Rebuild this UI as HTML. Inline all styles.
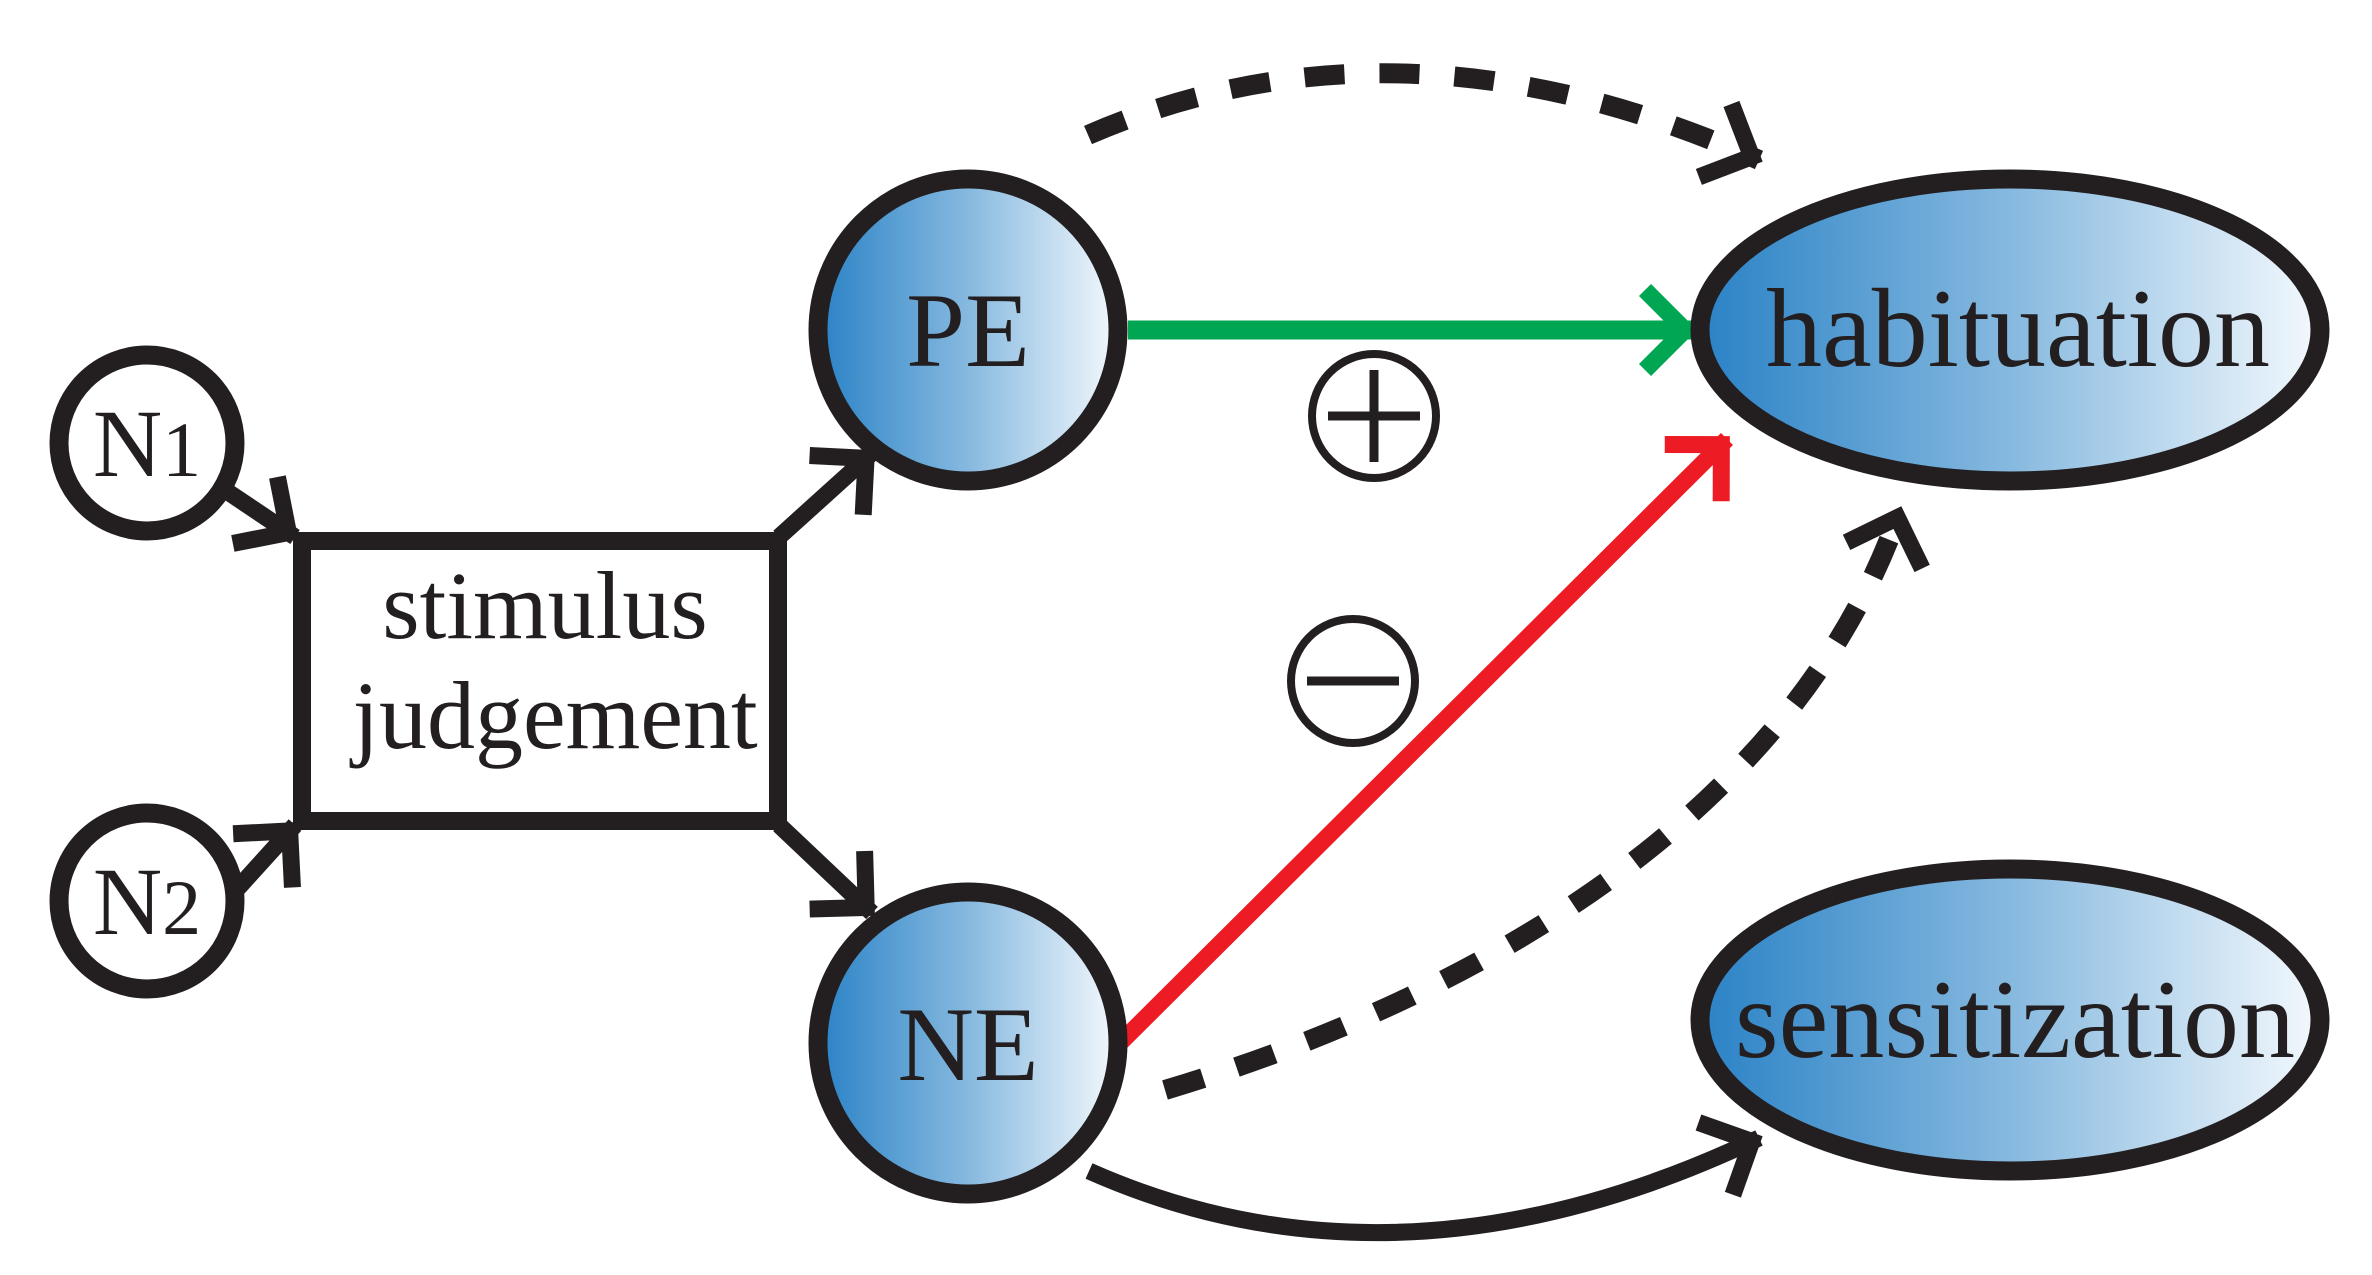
<!DOCTYPE html>
<html><head><meta charset="utf-8"><style>
html,body{margin:0;padding:0;background:#fff;}
svg{display:block;}
text{font-family:"Liberation Serif",serif;fill:#231f20;}
</style></head><body>
<svg width="2372" height="1275" viewBox="0 0 2372 1275" xmlns="http://www.w3.org/2000/svg">
<defs>
<linearGradient id="g" x1="0" y1="0" x2="1" y2="0">
<stop offset="0" stop-color="#2a82c6"/>
<stop offset="0.5" stop-color="#86b9df"/>
<stop offset="1" stop-color="#f4f9fd"/>
</linearGradient>
<marker id="ab" markerUnits="userSpaceOnUse" markerWidth="120" markerHeight="120" viewBox="-70 -60 90 120" refX="0" refY="0" orient="auto">
<path d="M-48,-40 L-8,0 L-48,40" fill="none" stroke="#231f20" stroke-width="17" stroke-dasharray="none" stroke-linejoin="miter" stroke-miterlimit="10"/>
</marker>
<marker id="ag" markerUnits="userSpaceOnUse" markerWidth="120" markerHeight="120" viewBox="-70 -60 90 120" refX="0" refY="0" orient="auto">
<path d="M-48,-40 L-8,0 L-48,40" fill="none" stroke="#00a651" stroke-width="17" stroke-linejoin="miter" stroke-miterlimit="10"/>
</marker>
<marker id="ar" markerUnits="userSpaceOnUse" markerWidth="120" markerHeight="120" viewBox="-70 -60 90 120" refX="0" refY="0" orient="auto">
<path d="M-48,-40 L-8,0 L-48,40" fill="none" stroke="#ed1c24" stroke-width="17" stroke-linejoin="miter" stroke-miterlimit="10"/>
</marker>
</defs>

<!-- connectors -->
<line x1="225" y1="490" x2="295" y2="537" stroke="#231f20" stroke-width="17" marker-end="url(#ab)"/>
<line x1="238" y1="888" x2="295" y2="825" stroke="#231f20" stroke-width="17" marker-end="url(#ab)"/>
<line x1="779" y1="537" x2="872" y2="453" stroke="#231f20" stroke-width="17" marker-end="url(#ab)"/>
<line x1="779" y1="825" x2="872" y2="913" stroke="#231f20" stroke-width="17" marker-end="url(#ab)"/>
<line x1="1128" y1="330" x2="1693" y2="330" stroke="#00a651" stroke-width="19" marker-end="url(#ag)"/>
<line x1="1118" y1="1045" x2="1727" y2="439" stroke="#ed1c24" stroke-width="17" marker-end="url(#ar)"/>
<path d="M1088,135 Q1400,0 1759,160" fill="none" stroke="#231f20" stroke-width="20" stroke-dasharray="40,35" marker-end="url(#ab)"/>
<path d="M1165,1090 C1500,990 1800,800 1900,510" fill="none" stroke="#231f20" stroke-width="20" stroke-dasharray="40,35" marker-end="url(#ab)"/>
<path d="M1089,1171 Q1400,1309 1759,1138" fill="none" stroke="#231f20" stroke-width="17" marker-end="url(#ab)"/>

<!-- nodes -->
<circle cx="147" cy="443" r="88" fill="#fff" stroke="#231f20" stroke-width="19"/>
<text x="147" y="476" font-size="96" text-anchor="middle">N<tspan font-size="78">1</tspan></text>
<circle cx="147" cy="901" r="88" fill="#fff" stroke="#231f20" stroke-width="19"/>
<text x="147" y="934" font-size="96" text-anchor="middle">N<tspan font-size="78">2</tspan></text>

<rect x="302" y="541" width="476" height="280" fill="#fff" stroke="#231f20" stroke-width="18"/>
<text x="545" y="638" font-size="96" text-anchor="middle">stimulus</text>
<text x="555" y="748" font-size="96" text-anchor="middle">judgement</text>

<ellipse cx="968" cy="330" rx="150" ry="151" fill="url(#g)" stroke="#231f20" stroke-width="19"/>
<text x="968" y="366" font-size="106" text-anchor="middle">PE</text>
<ellipse cx="968" cy="1043" rx="150" ry="151" fill="url(#g)" stroke="#231f20" stroke-width="19"/>
<text x="968" y="1080" font-size="106" text-anchor="middle">NE</text>

<ellipse cx="2010" cy="330" rx="310" ry="151" fill="url(#g)" stroke="#231f20" stroke-width="19"/>
<text x="2018" y="366" font-size="112" text-anchor="middle">habituation</text>
<ellipse cx="2010" cy="1020" rx="310" ry="151" fill="url(#g)" stroke="#231f20" stroke-width="19"/>
<text x="2015" y="1057" font-size="112" text-anchor="middle">sensitization</text>

<!-- signs -->
<circle cx="1374" cy="416" r="62" fill="#fff" stroke="#231f20" stroke-width="8"/>
<line x1="1328" y1="416" x2="1420" y2="416" stroke="#231f20" stroke-width="9"/>
<line x1="1374" y1="370" x2="1374" y2="462" stroke="#231f20" stroke-width="9"/>
<circle cx="1353" cy="681" r="62" fill="#fff" stroke="#231f20" stroke-width="8"/>
<line x1="1307" y1="681" x2="1399" y2="681" stroke="#231f20" stroke-width="9"/>
</svg>
</body></html>
